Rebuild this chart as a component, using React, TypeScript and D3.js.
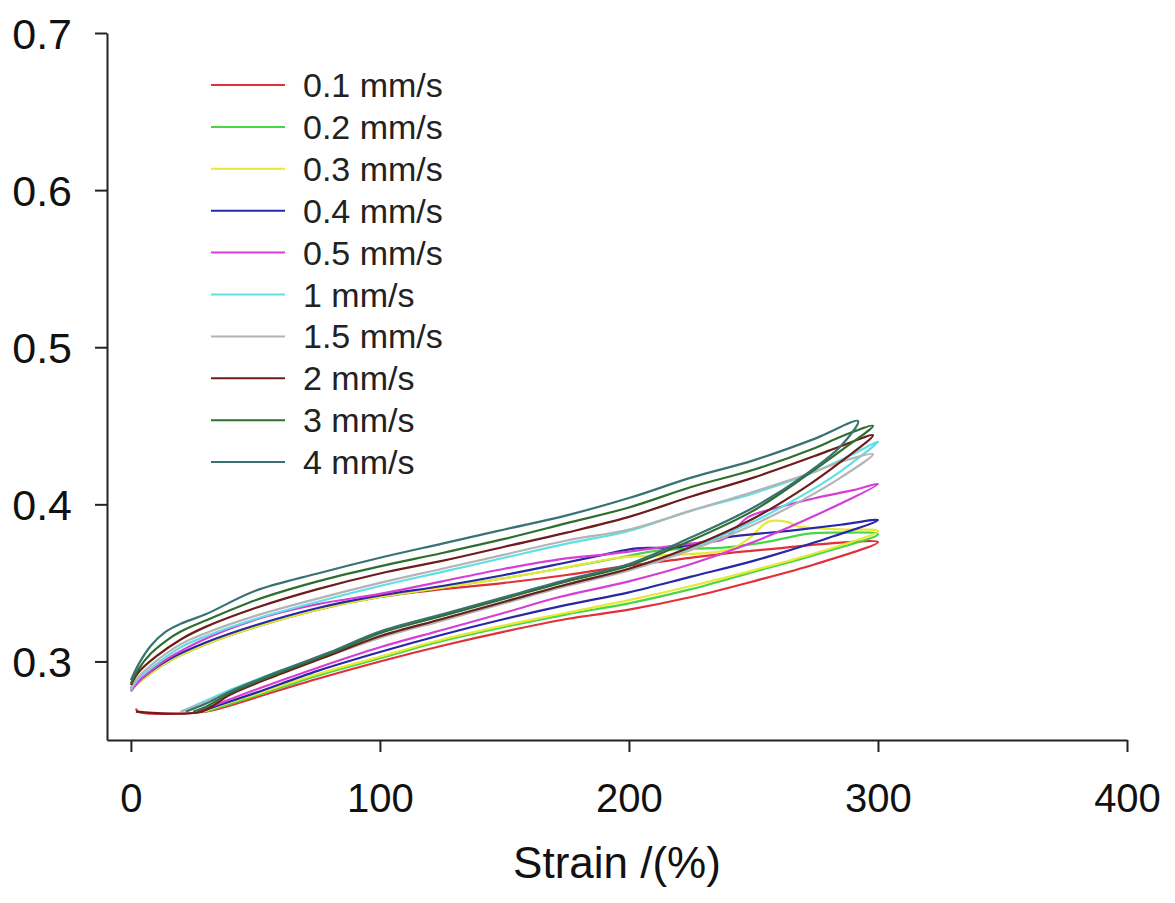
import { useEffect, useRef } from 'react';
import * as d3 from 'd3';

// each loop: loading branch (lower) out to ~300 %, then unloading branch (upper) back to 0
const speed01: [number, number][] = [
  [2, 0.270], [3, 0.268], [30, 0.268], [40, 0.272], [50, 0.277], [75, 0.289], [100, 0.300], [125, 0.310],
  [150, 0.319], [175, 0.327], [200, 0.333], [225, 0.341], [250, 0.351], [275, 0.362], [300, 0.376],
  [280, 0.375], [260, 0.372], [240, 0.369], [220, 0.365], [200, 0.361], [175, 0.355], [150, 0.350],
  [125, 0.346], [100, 0.341], [75, 0.333], [50, 0.322], [30, 0.311], [15, 0.300], [5, 0.289], [0, 0.282],
];
const speed02: [number, number][] = [
  [30, 0.268], [40, 0.273], [50, 0.278], [75, 0.291], [100, 0.302], [125, 0.313], [150, 0.322],
  [175, 0.330], [200, 0.337], [225, 0.346], [250, 0.357], [275, 0.368], [300, 0.381],
  [285, 0.382], [273, 0.3815], [255, 0.376], [239, 0.3726], [212, 0.3707], [196, 0.366], [172, 0.359],
  [150, 0.353], [125, 0.347], [100, 0.341], [75, 0.333], [50, 0.322], [30, 0.311], [15, 0.300], [5, 0.289], [0, 0.282],
];
const speed03: [number, number][] = [
  [29, 0.268], [40, 0.274], [50, 0.279], [75, 0.292], [100, 0.303], [125, 0.314], [150, 0.323],
  [175, 0.331], [200, 0.339], [225, 0.348], [250, 0.358], [275, 0.369], [300, 0.383],
  [285, 0.384], [268, 0.386], [263, 0.389], [256, 0.389], [248, 0.378], [240, 0.371], [220, 0.368],
  [196, 0.366], [172, 0.359], [150, 0.353], [125, 0.347], [100, 0.341], [75, 0.333], [50, 0.322],
  [30, 0.311], [15, 0.300], [5, 0.289], [0, 0.282],
];
const speed04: [number, number][] = [
  [28, 0.268], [35, 0.272], [50, 0.280], [75, 0.294], [100, 0.306], [125, 0.317], [150, 0.327],
  [175, 0.336], [200, 0.344], [225, 0.354], [250, 0.364], [275, 0.376], [300, 0.390],
  [285, 0.387], [266, 0.3834], [239, 0.379], [219, 0.3726], [203, 0.372], [190, 0.368], [172, 0.362],
  [150, 0.355], [125, 0.348], [100, 0.342], [75, 0.334], [50, 0.323], [30, 0.312], [15, 0.301], [5, 0.290], [0, 0.283],
];
const speed05: [number, number][] = [
  [27, 0.268], [35, 0.273], [50, 0.282], [75, 0.296], [100, 0.309], [125, 0.320], [150, 0.331],
  [172, 0.341], [200, 0.351], [225, 0.362], [250, 0.376], [275, 0.393], [300, 0.413],
  [290, 0.409], [275, 0.404], [260, 0.398], [248, 0.392], [238, 0.378], [225, 0.375], [210, 0.372],
  [190, 0.368], [172, 0.365], [150, 0.359], [125, 0.351], [100, 0.343], [75, 0.3365], [55, 0.329],
  [40, 0.321], [28, 0.313], [15, 0.302], [8, 0.294], [3, 0.287], [0, 0.281],
];
const speed1: [number, number][] = [
  [20, 0.268], [30, 0.275], [40, 0.282], [60, 0.294], [80, 0.305], [100, 0.316], [125, 0.327],
  [150, 0.338], [175, 0.349], [200, 0.359], [225, 0.372], [250, 0.389], [270, 0.406], [285, 0.421], [300, 0.440],
  [290, 0.432], [275, 0.421], [250, 0.407], [225, 0.396], [200, 0.383], [175, 0.375], [150, 0.366],
  [125, 0.357], [100, 0.348], [75, 0.338], [50, 0.327], [30, 0.316], [20, 0.309], [10, 0.298], [3, 0.289], [0, 0.282],
];
const speed15: [number, number][] = [
  [20, 0.268], [30, 0.274], [40, 0.281], [60, 0.293], [80, 0.304], [100, 0.315], [125, 0.326],
  [150, 0.337], [175, 0.348], [200, 0.358], [225, 0.371], [250, 0.387], [270, 0.403], [285, 0.417], [298, 0.432],
  [285, 0.427], [275, 0.421], [250, 0.408], [225, 0.396], [200, 0.384], [175, 0.377], [150, 0.368],
  [125, 0.359], [100, 0.350], [75, 0.340], [50, 0.329], [30, 0.318], [20, 0.311], [10, 0.300], [3, 0.290], [0, 0.283],
];
const speed2: [number, number][] = [
  [2, 0.268], [28, 0.268], [40, 0.279], [60, 0.292], [80, 0.304], [100, 0.316], [125, 0.327],
  [150, 0.338], [175, 0.349], [200, 0.359], [225, 0.373], [250, 0.391], [270, 0.410], [285, 0.427], [298, 0.444],
  [285, 0.437], [275, 0.431], [250, 0.417], [225, 0.405], [200, 0.392], [175, 0.382], [150, 0.373],
  [125, 0.364], [100, 0.356], [75, 0.346], [50, 0.334], [30, 0.322], [20, 0.314], [10, 0.303], [3, 0.293], [0, 0.285],
];
const speed3: [number, number][] = [
  [25, 0.268], [30, 0.271], [40, 0.280], [60, 0.293], [80, 0.305], [100, 0.318], [125, 0.329],
  [150, 0.340], [175, 0.351], [200, 0.361], [225, 0.377], [250, 0.396], [270, 0.417], [285, 0.434], [298, 0.450],
  [285, 0.443], [275, 0.436], [250, 0.422], [225, 0.411], [200, 0.398], [175, 0.388], [150, 0.378],
  [125, 0.369], [100, 0.3605], [75, 0.351], [50, 0.339], [30, 0.326], [20, 0.319], [14, 0.313], [8, 0.305], [3, 0.295], [0, 0.286],
];
const speed4: [number, number][] = [
  [22, 0.268], [30, 0.273], [40, 0.281], [60, 0.294], [80, 0.306], [100, 0.319], [125, 0.330],
  [150, 0.341], [175, 0.352], [200, 0.362], [225, 0.379], [250, 0.398], [270, 0.418], [285, 0.437], [292, 0.453],
  [275, 0.442], [250, 0.428], [225, 0.417], [200, 0.404], [175, 0.393], [150, 0.384], [125, 0.375],
  [100, 0.366], [75, 0.356], [50, 0.345], [30, 0.330], [20, 0.324], [14, 0.319], [8, 0.310], [3, 0.298], [0, 0.288],
];

const seriesNames = ['0.1 mm/s', '0.2 mm/s', '0.3 mm/s', '0.4 mm/s', '0.5 mm/s', '1 mm/s', '1.5 mm/s', '2 mm/s', '3 mm/s', '4 mm/s'];
const seriesData = [speed01, speed02, speed03, speed04, speed05, speed1, speed15, speed2, speed3, speed4];
const seriesColors = ['#e2303a', '#46d646', '#e8e838', '#2828a6', '#d63ed6', '#5ee0e6', '#b4b4b4', '#6e1c1c', '#2e6e2e', '#3a7272'];

const xTicks = [0, 100, 200, 300, 400];
const yTicks = [0.3, 0.4, 0.5, 0.6, 0.7];

const W = 1175;
const H = 903;

const App = () => {
  const svgRef = useRef<SVGSVGElement>(null);

  useEffect(() => {
    const svg = d3.select(svgRef.current);
    svg.selectAll('*').remove();

    const x = d3.scaleLinear().domain([-9.6, 400]).range([107, 1127]);
    const y = d3.scaleLinear().domain([0.25, 0.7]).range([740, 33]);
    const font = "'Liberation Sans', Arial, sans-serif";

    const line = d3.line<[number, number]>()
      .x(d => x(d[0]))
      .y(d => y(d[1]))
      .curve(d3.curveCatmullRom.alpha(0.5));

    // curves
    svg.append('g')
      .selectAll('path')
      .data(seriesData)
      .enter()
      .append('path')
      .attr('d', d => line(d))
      .attr('fill', 'none')
      .attr('stroke', (_, i) => seriesColors[i])
      .attr('stroke-width', 2.2)
      .attr('stroke-linejoin', 'round');

    // axes
    const yAxis = svg.append('g')
      .attr('transform', 'translate(107,0)')
      .call(d3.axisLeft(y).tickValues(yTicks).tickFormat(d3.format('.1f')).tickSize(12).tickSizeOuter(0).tickPadding(23));
    yAxis.selectAll('text')
      .attr('dy', '0.35em')
      .style('font-family', font)
      .style('font-size', '43px')
      .style('fill', '#111');

    const xAxis = svg.append('g')
      .attr('transform', 'translate(0,740)')
      .call(d3.axisBottom(x).tickValues(xTicks).tickFormat(d3.format('d')).tickSize(12).tickSizeOuter(0).tickPadding(32));
    xAxis.selectAll('text')
      .style('font-family', font)
      .style('font-size', '40px')
      .style('fill', '#111');

    svg.selectAll('.domain, .tick line')
      .attr('stroke', '#222')
      .attr('stroke-width', 2);

    svg.append('text')
      .attr('x', 617)
      .attr('y', 878)
      .attr('text-anchor', 'middle')
      .style('font-family', font)
      .style('font-size', '44px')
      .style('fill', '#111')
      .text('Strain /(%)');

    // legend
    const legend = svg.append('g');
    const rows = legend.selectAll('g')
      .data(seriesNames)
      .enter()
      .append('g')
      .attr('transform', (_, i) => `translate(0, ${85 + i * 41.9})`);
    rows.append('line')
      .attr('x1', 211)
      .attr('x2', 285)
      .attr('stroke', (_, i) => seriesColors[i])
      .attr('stroke-width', 2);
    rows.append('text')
      .attr('x', 303)
      .attr('y', 12)
      .style('font-family', font)
      .style('font-size', '34px')
      .style('fill', '#222')
      .text(d => d);
  }, []);

  return (
    <svg
      ref={svgRef}
      width={W}
      height={H}
      style={{ position: 'absolute', left: 0, top: 0, background: '#fff' }}
    />
  );
};

export default App;
